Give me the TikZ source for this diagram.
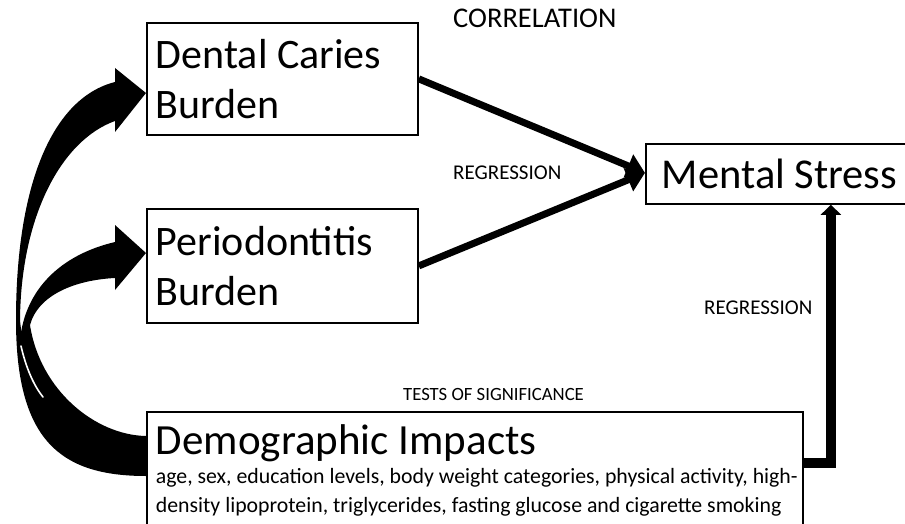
\documentclass[tikz,border=0pt]{standalone}
\usepackage{fontspec}
\setmainfont{Carlito}
\usetikzlibrary{arrows.meta,calc}
\begin{document}
\begin{tikzpicture}[x=1pt,y=-1pt,
  box/.style={draw=black, line width=1.8pt, fill=white, rectangle, inner xsep=9pt, inner ysep=0pt, align=flush left},
  big/.style={font=\fontsize{42}{50}\selectfont},
  lbl/.style={inner sep=0pt, anchor=base west, font=\fontsize{21}{25}\selectfont},
  conn/.style={line width=7pt, -{Triangle[length=18pt,width=24pt]}},
  blockarrow/.style={fill=black}
]
\useasboundingbox (0,0) rectangle (905,524);
\clip (0,0) rectangle (905,524);

% boxes
\node[box, big, text width=253pt, minimum height=112pt, anchor=north west] (dental) at (146,22) {Dental Caries\\Burden};
\node[box, big, text width=253pt, minimum height=114pt, anchor=north west] (perio) at (146,208) {Periodontitis\\Burden};
\node[box, font=\fontsize{42.5}{50}\selectfont, inner xsep=16pt, text width=244pt, minimum height=60pt, anchor=north west] (mental) at (645,143) {Mental Stress};
\node[box, inner ysep=13pt, text width=638pt, anchor=north west, font=\fontsize{21.8}{29}\selectfont] (demo) at (146,411)
  {{\fontsize{43}{50}\selectfont Demographic Impacts}\\
   \mbox{age, sex, education levels, body weight categories, physical activity, high-}\\
   \mbox{density lipoprotein, triglycerides, fasting glucose and cigarette smoking}};

% labels
\node[lbl, font=\fontsize{28.5}{33}\selectfont] (corr) at (453,28) {CORRELATION};
\node[lbl] (reg1) at (453,179) {REGRESSION};
\node[lbl] (reg2) at (704,314) {REGRESSION};
\node[lbl, font=\fontsize{18.7}{22}\selectfont] (tests) at (403,400) {TESTS OF SIGNIFICANCE};

% straight connectors
\draw[conn] (dental.east) -- ([yshift=1pt]mental.west);
\draw[conn] (perio.east) -- ([yshift=1pt]mental.west);
\coordinate (regstart) at ($(demo.north east)+(0,52)$);
\draw[line width=10pt, line join=miter, -{Triangle[length=10pt,width=20pt]}]
  (regstart) -| ([xshift=47pt]mental.south);

% curved block arrows from Demographic Impacts
\fill[blockarrow] (115,68) -- (146,93) -- (115,132) -- (115,121)
  .. controls (62,140) and (21,215) .. (20,320)
  .. controls (26,392) and (85,443) .. (146,445)
  -- (146,476)
  .. controls (60,476) and (16,440) .. (16,320)
  .. controls (16,185) and (52,98) .. (115,82) -- cycle;
\fill[blockarrow] (115,225) -- (146,253) -- (115,290) -- (115,278)
  .. controls (75,280) and (38,295) .. (30,325)
  .. controls (40,390) and (95,435) .. (146,436)
  -- (146,460)
  .. controls (80,458) and (25,380) .. (20,340)
  .. controls (25,290) and (60,255) .. (115,242) -- cycle;
\draw[white, line width=1.6pt, line cap=round] (21,346) .. controls (26,368) and (34,386) .. (43,397);
\end{tikzpicture}
\end{document}
